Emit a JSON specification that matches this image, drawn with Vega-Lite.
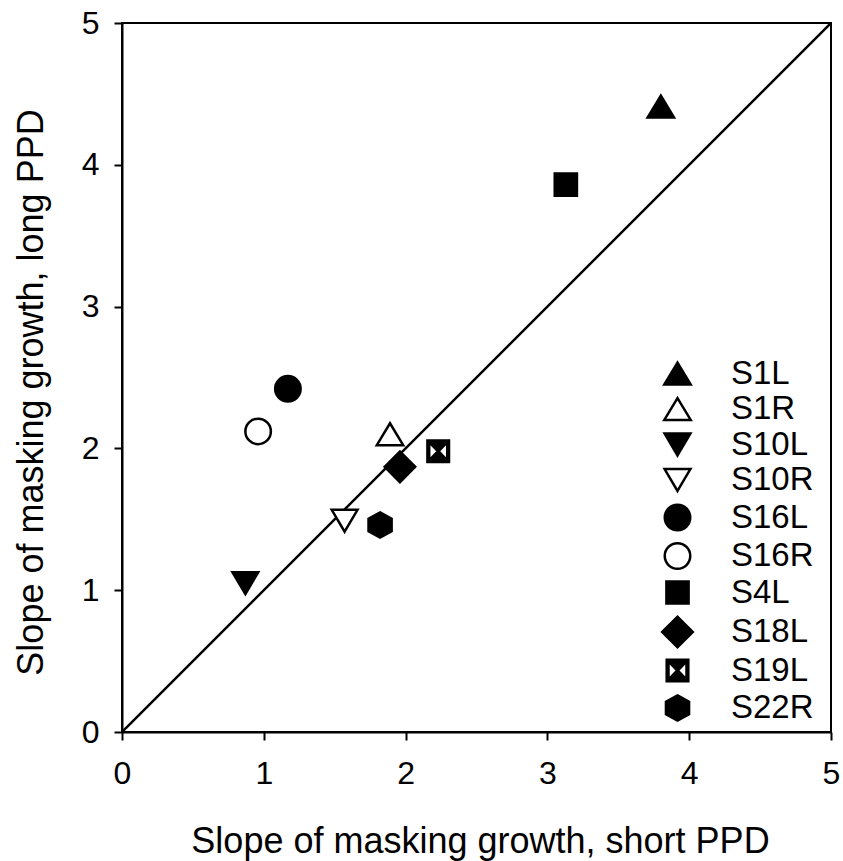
{
  "$schema": "https://vega.github.io/schema/vega-lite/v6.json",
  "width": 709,
  "height": 709,
  "autosize": {"type": "none"},
  "padding": {"left": 122, "top": 23, "right": 12, "bottom": 129},
  "background": "white",
  "config": {
    "font": "Liberation Sans",
    "view": {"stroke": "black", "strokeWidth": 2},
    "axis": {
      "grid": false,
      "domainColor": "black",
      "domainWidth": 2,
      "tickColor": "black",
      "tickWidth": 2,
      "tickSize": 8,
      "labelFlush": false,
      "labelFont": "Liberation Sans",
      "labelFontSize": 32,
      "labelColor": "black",
      "titleFont": "Liberation Sans",
      "titleFontSize": 36,
      "titleFontWeight": "normal",
      "titleColor": "black"
    }
  },
  "layer": [
    {
      "data": {"values": [{"sx": 0, "ly": 0}, {"sx": 5, "ly": 5}]},
      "mark": {"type": "line", "color": "black", "strokeWidth": 2.5, "clip": true},
      "encoding": {
        "x": {"field": "sx", "type": "quantitative"},
        "y": {"field": "ly", "type": "quantitative"}
      }
    },
    {
      "data": {
        "values": [
          {"subject": "S1L", "short": 3.80, "long": 4.41},
          {"subject": "S1R", "short": 1.89, "long": 2.10},
          {"subject": "S10L", "short": 0.87, "long": 1.05},
          {"subject": "S10R", "short": 1.57, "long": 1.49},
          {"subject": "S16L", "short": 1.17, "long": 2.42},
          {"subject": "S16R", "short": 0.96, "long": 2.12},
          {"subject": "S4L", "short": 3.13, "long": 3.86},
          {"subject": "S18L", "short": 1.96, "long": 1.87},
          {"subject": "S19L", "short": 2.23, "long": 1.98},
          {"subject": "S22R", "short": 1.82, "long": 1.46}
        ]
      },
      "mark": {"type": "point", "filled": true, "stroke": "black", "strokeWidth": 2.5, "opacity": 1, "size": 900},
      "encoding": {
        "x": {
          "field": "short",
          "type": "quantitative",
          "scale": {"domain": [0, 5], "nice": false, "zero": false},
          "axis": {"values": [0, 1, 2, 3, 4, 5], "format": "d", "labelPadding": 18, "titleX": 358, "titleY": 120, "titleBaseline": "alphabetic"},
          "title": "Slope of masking growth, short PPD"
        },
        "y": {
          "field": "long",
          "type": "quantitative",
          "scale": {"domain": [0, 5], "nice": false, "zero": false},
          "axis": {"values": [0, 1, 2, 3, 4, 5], "format": "d", "labelPadding": 15, "titleX": -80, "titleY": 369, "titleBaseline": "alphabetic"},
          "title": "Slope of masking growth, long PPD"
        },
        "shape": {
          "field": "subject",
          "type": "nominal",
          "sort": null,
          "scale": {
            "domain": ["S1L", "S1R", "S10L", "S10R", "S16L", "S16R", "S4L", "S18L", "S19L", "S22R"],
            "range": [
              "M0,-0.73L0.88,0.73L-0.88,0.73Z",
              "M0,-0.73L0.88,0.73L-0.88,0.73Z",
              "M0,0.73L0.86,-0.73L-0.86,-0.73Z",
              "M0,0.73L0.86,-0.73L-0.86,-0.73Z",
              "M0.85,0A0.85,0.85,0,1,1,-0.85,0A0.85,0.85,0,1,1,0.85,0Z",
              "M0.85,0A0.85,0.85,0,1,1,-0.85,0A0.85,0.85,0,1,1,0.85,0Z",
              "M-0.74,-0.74L0.74,-0.74L0.74,0.74L-0.74,0.74Z",
              "M-1.02,0L0,-1.02L1.02,0L0,1.02Z",
              "M-0.72,-0.72L0.72,-0.72L0.72,0.72L-0.72,0.72ZM-0.6,-0.6L-0.6,0.6L-0.03,0ZM0.6,-0.6L0.03,0L0.6,0.6Z",
              "M0,-0.84L0.77,-0.42L0.77,0.42L0,0.84L-0.77,0.42L-0.77,-0.42Z"
            ]
          },
          "legend": {
            "orient": "none",
            "legendX": 539,
            "legendY": 334,
            "title": null,
            "padding": 0,
            "symbolSize": 900,
            "symbolStrokeColor": "black",
            "symbolStrokeWidth": 2.5,
            "symbolOpacity": 1,
            "labelFont": "Liberation Sans",
            "labelFontSize": 33,
            "labelColor": "black",
            "labelOffset": 37,
            "rowPadding": 1.5,
            "encode": {
              "symbols": {"update": {"stroke": {"value": "black"}, "strokeWidth": {"value": 2.5}}}
            }
          }
        },
        "fill": {
          "field": "subject",
          "type": "nominal",
          "sort": null,
          "scale": {
            "domain": ["S1L", "S1R", "S10L", "S10R", "S16L", "S16R", "S4L", "S18L", "S19L", "S22R"],
            "range": ["black", "white", "black", "white", "black", "white", "black", "black", "black", "black"]
          },
          "legend": {
            "orient": "none",
            "legendX": 539,
            "legendY": 334,
            "title": null,
            "padding": 0,
            "symbolSize": 900,
            "symbolStrokeColor": "black",
            "symbolStrokeWidth": 2.5,
            "symbolOpacity": 1,
            "labelFont": "Liberation Sans",
            "labelFontSize": 33,
            "labelColor": "black",
            "labelOffset": 37,
            "rowPadding": 1.5,
            "encode": {
              "symbols": {"update": {"stroke": {"value": "black"}, "strokeWidth": {"value": 2.5}}}
            }
          }
        }
      }
    }
  ]
}
